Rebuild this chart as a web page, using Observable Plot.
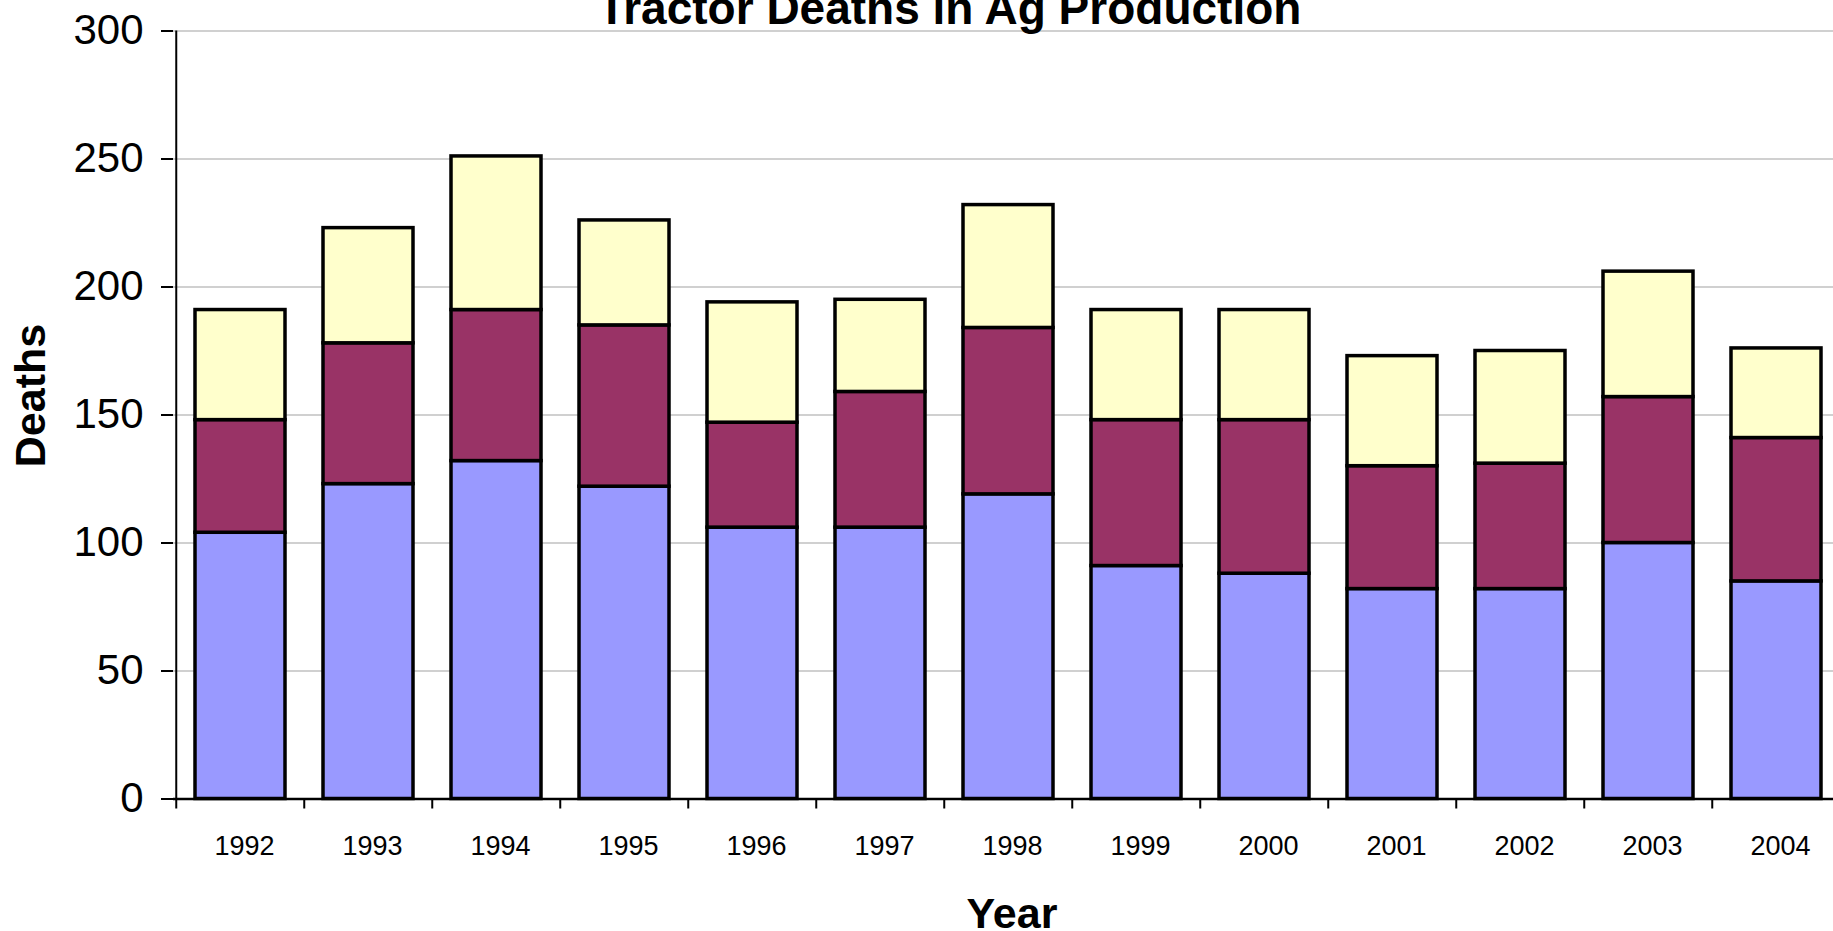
<!DOCTYPE html>
<html>
<head>
<meta charset="utf-8">
<script src="https://cdn.jsdelivr.net/npm/d3@7"></script>
<script src="https://cdn.jsdelivr.net/npm/@observablehq/plot@0.6"></script>
<style>
  html, body { margin: 0; padding: 0; background: #ffffff; overflow: hidden; }
</style>
</head>
<body>
<div id="chart"></div>
<script>
// ---- data ----
const years = ["1992","1993","1994","1995","1996","1997","1998","1999","2000","2001","2002","2003","2004"];
const seriesNames = ["Series 1", "Series 2", "Series 3"];
const series1 = [104, 123, 132, 122, 106, 106, 119, 91, 88, 82, 82, 100, 85];   // bottom (blue)
const series2 = [44, 55, 59, 63, 41, 53, 65, 57, 60, 48, 49, 57, 56];           // middle (maroon)
const series3 = [43, 45, 60, 41, 47, 36, 48, 43, 43, 43, 44, 49, 35];           // top (yellow)
const yTicks = [0, 50, 100, 150, 200, 250, 300];
const seriesColors = ["#9999FF", "#993366", "#FFFFCC"];
const titleText = "Tractor Deaths in Ag Production";
const yLabelText = "Deaths";
const xLabelText = "Year";

// ---- table built from the arrays ----
const allSeries = [series1, series2, series3];
const data = [];
years.forEach((yr, i) => {
  allSeries.forEach((s, k) => data.push({year: yr, series: seriesNames[k], value: s[i]}));
});

// ---- layout ----
const W = 1833, H = 931;
const mLeft = 173, mTop = 30.5, mBottom = 132.5;
const xRange = [173, 1843.5];
const step = (xRange[1] - xRange[0]) / years.length;
const pad = 0.3;
const font = "'Liberation Sans', Arial, Helvetica, sans-serif";

const chart = Plot.plot({
  width: W,
  height: H,
  marginLeft: mLeft,
  marginRight: 0,
  marginTop: mTop,
  marginBottom: mBottom,
  style: {fontFamily: font, color: "black", background: "white", overflow: "visible"},
  x: {type: "band", domain: years, range: xRange, paddingInner: pad, paddingOuter: pad / 2},
  y: {domain: [0, 300]},
  color: {domain: seriesNames, range: seriesColors},
  marks: [
    Plot.gridY(yTicks, {stroke: "#c0c0c0", strokeOpacity: 1, strokeWidth: 1.5}),
    Plot.barY(data, {
      x: "year", y: "value", fill: "series", order: seriesNames,
      stroke: "black", strokeWidth: 3.5, strokeLinejoin: "miter"
    }),
    Plot.ruleY([0], {stroke: "black", strokeWidth: 2.5}),
    Plot.ruleX([years[0]], {x: d => d, dx: -step / 2, stroke: "black", strokeWidth: 2}),
    Plot.axisY(yTicks, {tickSize: 12, tickPadding: 18, fontSize: 42, strokeWidth: 2, label: null}),
    Plot.axisX({tickSize: 10, tickPadding: 0, tickFormat: () => "", dx: -step / 2, strokeWidth: 2, label: null}),
    Plot.axisX({tickSize: 0, tickPadding: 37, fontSize: 27, dx: 4, label: null}),
    Plot.text([titleText], {
      frameAnchor: "top", textAnchor: "middle", lineAnchor: "bottom",
      dx: -54, dy: -7.2, fontSize: 46, fontWeight: "bold", fill: "black"
    }),
    Plot.text([yLabelText], {
      frameAnchor: "left", textAnchor: "middle", lineAnchor: "middle", rotate: -90,
      dx: -142, dy: -19.5, fontSize: 43, fontWeight: "bold", fill: "black"
    }),
    Plot.text([xLabelText], {
      frameAnchor: "bottom", textAnchor: "middle", lineAnchor: "bottom",
      dx: 8.5, dy: 128.5, fontSize: 43, fontWeight: "bold", fill: "black"
    })
  ]
});
document.getElementById("chart").appendChild(chart);
</script>
</body>
</html>
